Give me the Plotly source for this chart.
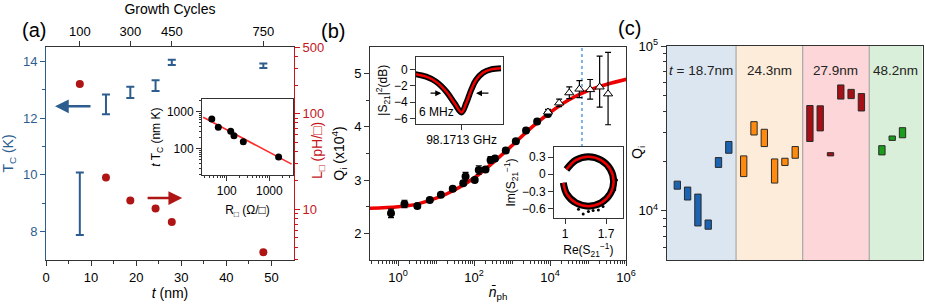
import plotly.graph_objects as go

# ---------------- data: panel (a) ----------------
t_nm = [7.5, 13.3, 18.7, 24.3, 27.9, 48.2]
tc_K = [8.98, 12.48, 12.9, 13.14, 13.96, 13.84]
tc_err = [1.1, 0.35, 0.2, 0.19, 0.09, 0.08]
L_pH = [205, 21.5, 12.3, 10.2, 7.36, 3.54]
cycle_t = [7.5, 18.7, 27.9, 48.2]
cycle_labels = ["100", "300", "450", "750"]

# inset (a)
R_sq = [44.6, 63.5, 124, 148, 245, 1650]
tTc = [635, 378, 295, 224, 155, 60]
fit_R = [28, 3340]
fit_tTc = [706, 38.4]

# ---------------- data: panel (b) ----------------
n_ph = [0.65, 1.47, 3.21, 6.84, 13.4, 27.5, 51.9, 59.7, 104, 133, 200, 272, 355,
        684, 1259, 2333, 4581, 8831]
Qi = [2.377, 2.552, 2.514, 2.627, 2.727, 2.84, 2.94, 3.066, 3.004, 3.19, 3.2, 3.38,
      3.405, 3.556, 3.73, 3.93, 4.1, 4.24]
Qi_err = [0.08, 0.07, 0.04, 0.04, 0.04, 0.04, 0.04, 0.08, 0.04, 0.08, 0.04, 0.06,
          0.04, 0.04, 0.04, 0.04, 0.04, 0.04]
n_tri = [8831, 17378, 32137, 59293, 113763, 202302, 337287]
Q_tri = [4.28, 4.45, 4.64, 4.71, 4.70, 4.75, 4.62]
Q_tri_up = [0.05, 0.07, 0.11, 0.16, 0.19, 0.58, 0.78]
Q_tri_dn = [0.05, 0.07, 0.11, 0.16, 0.18, 0.38, 0.58]
n_fit = [0.18, 1, 3.16, 10, 31.6, 100, 316, 1000, 3162, 1e4, 31623, 1e5, 316228, 1.12e6]
Q_fit = [2.47, 2.50, 2.55, 2.66, 2.82, 3.04, 3.33, 3.65, 3.98, 4.27, 4.51, 4.68, 4.80, 4.90]
n_mark = 69183
Q_mark = [3.62, 5.5]

# inset 1 (transmission dip)
f_MHz = [-8.1, -6.1, -4.4, -2.6, -1.2, 0, 0.8, 1.67, 2.5, 3.7, 5.1, 6.8]
s21_dB = [-0.55, -0.88, -1.49, -2.72, -4.14, -5.25, -4.14, -2.5, -1.29, -0.39, 0.02, 0.15]

# inset 2 (inverse S21 circle)
re_fit = [1.024, 1.185, 1.40, 1.615, 1.772, 1.83, 1.772, 1.615, 1.40, 1.185, 1.028, 0.971]
im_fit = [0.083, 0.247, 0.305, 0.247, 0.09, -0.125, -0.34, -0.497, -0.555, -0.497, -0.34, -0.147]
re_out = [1.31, 1.40, 1.48, 1.57, 1.23, 1.65, 1.85, 1.88, 1.82, 1.77, 1.71]
im_out = [-0.69, -0.65, -0.63, -0.62, -0.61, -0.56, -0.27, -0.10, 0.05, 0.13, -0.42]

# ---------------- data: panel (c) ----------------
band_labels = ["<i>t</i> = 18.7nm", "24.3nm", "27.9nm", "48.2nm"]
q_low = [
    [13500, 11600, 8070, 7710, 18300, 22300],
    [16100, 28800, 24500, 14700, 18800, 20800],
    [26300, 30500, 21500, 47600, 47900, 40300],
    [21800, 26700, 27700],
]
q_high = [
    [15100, 13900, 12600, 8770, 21000, 26300],
    [21500, 34700, 31200, 20600, 20800, 24500],
    [43500, 43300, 22500, 58000, 54500, 51400],
    [24800, 28400, 31900],
]

# ---------------- style ----------------
FONT = "Liberation Sans, Arial, sans-serif"
BLUE = "#2d5d8f"
RED = "#c4161c"
DOT_RED = "#b01515"
AX = "#333333"
band_fill = ["#dce6f1", "#fdecd9", "#fcd6d8", "#d9efd9"]
bar_fill = ["#1b64b3", "#ff8a0d", "#a50f15", "#1a9e1a"]
band_edges = [0, 6.8, 13.33, 19.86, 25.08]
first_off = [1.04, 0.75, 0.71, 1.24]


def dx(a, b):
    return [a / 925, b / 925]


def dy(top, bot):
    return [(307 - bot) / 307, (307 - top) / 307]


def ttl(text, size=14, standoff=4, color="black"):
    return dict(text=text, standoff=standoff, font=dict(size=size, color=color, family=FONT))


fig = go.Figure()

# panel (a)
fig.add_trace(go.Scatter(x=t_nm, y=tc_K, mode="markers", xaxis="x", yaxis="y",
                         marker=dict(size=2, color="rgba(0,0,0,0)"),
                         error_y=dict(type="data", array=tc_err, color=BLUE, thickness=2, width=4)))
fig.add_trace(go.Scatter(x=t_nm, y=L_pH, mode="markers", xaxis="x", yaxis="y2",
                         marker=dict(size=8, color=DOT_RED)))
fig.add_trace(go.Scatter(x=cycle_t, y=tc_K[:4], mode="markers", xaxis="x2", yaxis="y",
                         marker=dict(size=1, color="rgba(0,0,0,0)"), hoverinfo="skip"))
fig.add_trace(go.Scatter(x=fit_R, y=fit_tTc, mode="lines", xaxis="x3", yaxis="y3",
                         line=dict(color="#ff2a2a", width=1.6)))
fig.add_trace(go.Scatter(x=R_sq, y=tTc, mode="markers", xaxis="x3", yaxis="y3",
                         marker=dict(size=7, color="black")))

# panel (b)
fig.add_trace(go.Scatter(x=[n_mark, n_mark], y=Q_mark, mode="lines", xaxis="x4", yaxis="y4",
                         line=dict(color="#7fb2e0", width=2, dash="dot")))
fig.add_trace(go.Scatter(x=n_fit, y=Q_fit, mode="lines", xaxis="x4", yaxis="y4",
                         line=dict(color="#ee0000", width=3.5, shape="spline")))
fig.add_trace(go.Scatter(x=n_ph, y=Qi, mode="markers", xaxis="x4", yaxis="y4",
                         marker=dict(size=8, color="black"),
                         error_y=dict(type="data", array=Qi_err, color="black", thickness=1.2, width=3)))
fig.add_trace(go.Scatter(x=n_tri, y=Q_tri, mode="markers", xaxis="x4", yaxis="y4",
                         marker=dict(size=8, symbol="triangle-up", color="white",
                                     line=dict(color="black", width=1)),
                         error_y=dict(type="data", array=Q_tri_up, arrayminus=Q_tri_dn,
                                      color="black", thickness=1.2, width=3)))
# inset 1
fig.add_trace(go.Scatter(x=f_MHz, y=s21_dB, mode="lines", xaxis="x5", yaxis="y5",
                         line=dict(color="black", width=6, shape="spline")))
fig.add_trace(go.Scatter(x=f_MHz, y=s21_dB, mode="lines", xaxis="x5", yaxis="y5",
                         line=dict(color="#ee0000", width=2.5, shape="spline")))
# inset 2
fig.add_trace(go.Scatter(x=re_fit, y=im_fit, mode="lines", xaxis="x6", yaxis="y6",
                         line=dict(color="black", width=7, shape="spline")))
fig.add_trace(go.Scatter(x=re_out, y=im_out, mode="markers", xaxis="x6", yaxis="y6",
                         marker=dict(size=3, color="black")))
fig.add_trace(go.Scatter(x=re_fit, y=im_fit, mode="lines", xaxis="x6", yaxis="y6",
                         line=dict(color="#ee0000", width=2.5, shape="spline")))

# panel (c)
shapes = []
annotations = []
for k in range(4):
    pos = [band_edges[k] + first_off[k] + i * 1.01 for i in range(len(q_low[k]))]
    fig.add_trace(go.Bar(x=pos, y=[h - l for h, l in zip(q_high[k], q_low[k])], base=q_low[k],
                         width=0.62, xaxis="x7", yaxis="y7",
                         marker=dict(color=bar_fill[k], line=dict(color="#2a2a2a", width=1))))
    shapes.append(dict(type="rect", xref="x7", yref="y7 domain", x0=band_edges[k], x1=band_edges[k + 1],
                       y0=0, y1=1, fillcolor=band_fill[k], line=dict(width=0), layer="below"))
    if k > 0:
        shapes.append(dict(type="line", xref="x7", yref="y7 domain", x0=band_edges[k], x1=band_edges[k],
                           y0=0, y1=1, line=dict(color="#a8a8a8", width=1.2), layer="below"))
    annotations.append(dict(x=(band_edges[k] + band_edges[k + 1]) / 2, y=0.93, xref="x7", yref="y7 domain",
                            text=band_labels[k], showarrow=False, font=dict(size=13.5, color="#222")))

# arrows & texts
annotations += [
    dict(x=2.0, y=12.41, ax=10.2, ay=12.41, xref="x", yref="y", axref="x", ayref="y",
         showarrow=True, arrowhead=2, arrowsize=1.1, arrowwidth=2.5, arrowcolor=BLUE, text=""),
    dict(x=30.2, y=1.117, ax=22.2, ay=1.117, xref="x", yref="y2", axref="x", ayref="y2",
         showarrow=True, arrowhead=2, arrowsize=1.1, arrowwidth=2.5, arrowcolor=DOT_RED, text=""),
    dict(x=-3.5, y=-2.9, ax=-5.6, ay=-2.9, xref="x5", yref="y5", axref="x5", ayref="y5",
         showarrow=True, arrowhead=2, arrowsize=1, arrowwidth=1.2, arrowcolor="black", text=""),
    dict(x=2.5, y=-2.9, ax=4.9, ay=-2.9, xref="x5", yref="y5", axref="x5", ayref="y5",
         showarrow=True, arrowhead=2, arrowsize=1, arrowwidth=1.2, arrowcolor="black", text=""),
    dict(x=-7.6, y=-5.2, xref="x5", yref="y5", text="6 MHz", showarrow=False, xanchor="left",
         font=dict(size=12, color="black")),
    dict(x=318 / 925, y=(307 - 151) / 307, xref="paper", yref="paper", text="L<sub>□</sub> (pH/□)",
         textangle=-90, showarrow=False, font=dict(size=14, color=RED)),
    dict(x=649 / 925, y=(307 - 153) / 307, xref="paper", yref="paper", text="Q<sub>i</sub>",
         textangle=-90, showarrow=False, font=dict(size=14, color="black")),
    dict(x=20 / 925, y=(307 - 17) / 307, xref="paper", yref="paper", text="(a)", showarrow=False,
         font=dict(size=20, color="black")),
    dict(x=333 / 925, y=(307 - 18) / 307, xref="paper", yref="paper", text="(b)", showarrow=False,
         font=dict(size=20, color="black")),
    dict(x=643 / 925, y=(307 - 15) / 307, xref="paper", yref="paper", text="(c)", showarrow=False,
         font=dict(size=20, color="black")),
]

common = dict(showgrid=False, zeroline=False, showline=True, ticks="outside", ticklen=5,
              tickwidth=1, automargin=False)
TF = dict(size=13, family=FONT)
TFS = dict(size=12, family=FONT)

fig.update_layout(
    width=925, height=307, margin=dict(l=0, r=0, t=0, b=0),
    paper_bgcolor="white", plot_bgcolor="white", showlegend=False, barmode="overlay",
    font=dict(family=FONT, size=13, color="black"),
    shapes=shapes, annotations=annotations,
    xaxis=dict(domain=dx(46, 294), anchor="y", range=[0, 55], tickvals=[0, 10, 20, 30, 40, 50],
               minor=dict(tickvals=[5, 15, 25, 35, 45], ticklen=3, ticks="outside", tickcolor=AX),
               linecolor=AX, tickcolor=AX, tickfont=TF, title=ttl("<i>t</i> (nm)", standoff=3), **common),
    xaxis2=dict(overlaying="x", anchor="y", side="top", range=[0, 55], tickvals=cycle_t,
                ticktext=cycle_labels, linecolor=AX, tickcolor=AX, tickfont=TF,
                title=ttl("Growth Cycles", standoff=5), **common),
    yaxis=dict(domain=dy(47, 260), anchor="x", range=[7.0, 14.5], tickvals=[8, 10, 12, 14],
               minor=dict(tickvals=[9, 11, 13], ticklen=3, ticks="outside", tickcolor=BLUE),
               color=BLUE, linecolor=BLUE, tickcolor=BLUE, tickfont=dict(size=13, family=FONT, color=BLUE),
               title=ttl("T<sub>C</sub> (K)", standoff=8, color=BLUE), **common),
    yaxis2=dict(overlaying="y", anchor="x", side="right", type="log", range=[0.468, 2.699],
                tickvals=[10, 100, 500], ticktext=["10", "100", "500"],
                minor=dict(tickvals=[3, 4, 5, 6, 7, 8, 9, 20, 30, 40, 50, 60, 70, 80, 90, 200, 300, 400],
                           ticklen=3, ticks="outside", tickcolor=RED),
                color=RED, linecolor=RED, tickcolor=RED, tickfont=dict(size=13, family=FONT, color=RED),
                **common),
    xaxis3=dict(domain=dx(202, 293), anchor="y3", type="log", range=[1.42, 3.555],
                tickvals=[100, 1000], mirror=True, linecolor=AX, tickcolor=AX, tickfont=TFS,
                minor=dict(tickvals=[30, 40, 50, 60, 70, 80, 90, 200, 300, 400, 500, 600, 700, 800, 900,
                                     2000, 3000], ticklen=2, ticks="outside", tickcolor=AX),
                title=ttl("R<sub>□</sub> (Ω/□)", size=12, standoff=8), **common),
    yaxis3=dict(domain=dy(99.3, 175), anchor="x3", type="log", range=[1.29, 3.335],
                tickvals=[100, 1000], mirror=True, linecolor=AX, tickcolor=AX, tickfont=TFS,
                minor=dict(tickvals=[20, 30, 40, 50, 60, 70, 80, 90, 200, 300, 400, 500, 600, 700, 800,
                                     900, 2000], ticklen=2, ticks="outside", tickcolor=AX),
                title=ttl("<i>t</i> T<sub>C</sub> (nm K)", size=12, standoff=3), **common),
    xaxis4=dict(domain=dx(370, 626), anchor="y4", type="log", range=[-0.74, 6.0],
                tickvals=[1, 100, 1e4, 1e6], tickfont=TF,
                ticktext=["10<sup>0</sup>", "10<sup>2</sup>", "10<sup>4</sup>", "10<sup>6</sup>"],
                minor=dict(tickvals=[0.2, 0.3, 0.4, 0.5, 0.6, 0.7, 0.8, 0.9,
                                     2, 3, 4, 5, 6, 7, 8, 9, 10, 20, 30, 40, 50, 60, 70, 80, 90,
                                     200, 300, 400, 500, 600, 700, 800, 900, 1000,
                                     2e3, 3e3, 4e3, 5e3, 6e3, 7e3, 8e3, 9e3,
                                     2e4, 3e4, 4e4, 5e4, 6e4, 7e4, 8e4, 9e4, 1e5,
                                     2e5, 3e5, 4e5, 5e5, 6e5, 7e5, 8e5, 9e5],
                           ticklen=3, ticks="outside", tickcolor=AX),
                mirror=True, linecolor=AX, tickcolor=AX,
                title=ttl("<i>n̄</i><sub>ph</sub>", standoff=3), **common),
    yaxis4=dict(domain=dy(47, 260), anchor="x4", range=[1.5, 5.5], tickvals=[2, 3, 4, 5], tickfont=TF,
                minor=dict(tickvals=[2.5, 3.5, 4.5], ticklen=3, ticks="outside", tickcolor=AX),
                mirror=True, linecolor=AX, tickcolor=AX,
                title=ttl("Q<sub>i</sub> (x10<sup>4</sup>)", standoff=6), **common),
    xaxis5=dict(domain=dx(416, 503), anchor="y5", range=[-7.85, 7.15], tickvals=[0], tickfont=TFS,
                ticktext=["98.1713 GHz"], mirror=True, linecolor=AX, tickcolor=AX, **common),
    yaxis5=dict(domain=dy(57, 123.5), anchor="x5", range=[-6.61, 1.53], tickvals=[0, -2, -4, -6],
                ticktext=["0", "−2", "−4", "−6"], mirror=True, linecolor=AX, tickcolor=AX,
                tickfont=TFS, title=ttl("|S<sub>21</sub>|<sup>2</sup>(dB)", size=12, standoff=3), **common),
    xaxis6=dict(domain=dx(554, 622.7), anchor="y6", range=[0.812, 1.985], tickvals=[1, 1.7],
                ticktext=["1", "1.7"], mirror=True, linecolor=AX, tickcolor=AX, tickfont=TFS,
                title=ttl("Re(S<sub>21</sub><sup>−1</sup>)", size=12, standoff=3), **common),
    yaxis6=dict(domain=dy(147.3, 217.7), anchor="x6", range=[-0.756, 0.47],
                tickvals=[0.3, 0, -0.3, -0.6], ticktext=["0.3", "0", "−0.3", "−0.6"],
                mirror=True, linecolor=AX, tickcolor=AX, tickfont=TFS,
                title=ttl("Im(S<sub>21</sub><sup>−1</sup>)", size=12, standoff=3), **common),
    xaxis7=dict(domain=dx(666.7, 922.5), anchor="y7", range=[0, 25.08], showticklabels=False,
                showgrid=False, zeroline=False, showline=True, ticks="", mirror=True, linecolor=AX,
                automargin=False),
    yaxis7=dict(domain=dy(46, 260), anchor="x7", type="log", range=[3.70, 5.0],
                tickvals=[1e4, 1e5], ticktext=["10<sup>4</sup>", "10<sup>5</sup>"], tickfont=TF,
                minor=dict(tickvals=[6000, 7000, 8000, 9000, 20000, 30000, 40000, 50000, 60000,
                                     70000, 80000, 90000], ticklen=3, ticks="outside", tickcolor=AX),
                mirror=True, linecolor=AX, tickcolor=AX, **common),
)

fig.write_html("out.html", config={"displayModeBar": False},
               post_script="document.body.style.margin='0px';document.body.style.overflow='hidden';")
